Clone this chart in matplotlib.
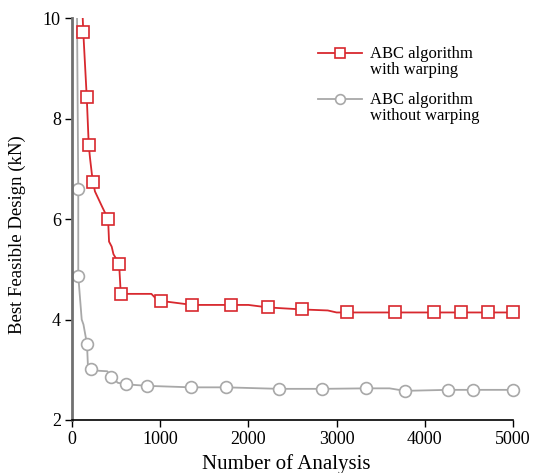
import matplotlib.pyplot as plt
from matplotlib.lines import Line2D

# path of the red curve (line only) and its marker points
red_path_x = [110, 128, 167, 190, 205, 225, 239, 260, 300, 340, 409, 420, 450, 470, 534, 553,
              900, 960, 1008, 1364, 1803, 2000, 2224, 2610, 2900, 3000, 3121, 3659, 4106, 4409, 4712, 5000]
red_path_y = [10.5, 9.72, 8.43, 7.47, 7.2, 6.9, 6.74, 6.55, 6.4, 6.25, 6.0, 5.55, 5.45, 5.3, 5.11, 4.51,
              4.51, 4.4, 4.37, 4.29, 4.29, 4.29, 4.24, 4.20, 4.18, 4.14, 4.14, 4.14, 4.14, 4.14, 4.14, 4.14]
red_mark_x = [128, 167, 190, 239, 409, 534, 553, 1008, 1364, 1803, 2224, 2610, 3121, 3659, 4106, 4409, 4712, 5000]
red_mark_y = [9.72, 8.43, 7.47, 6.74, 6.0, 5.11, 4.51, 4.37, 4.29, 4.29, 4.24, 4.20, 4.14, 4.14, 4.14, 4.14, 4.14, 4.14]

gray_path_x = [55, 71, 71, 110, 130, 170, 180, 212, 300, 400, 443, 520, 613, 848, 1352, 1746, 2344,
               2836, 3339, 3600, 3774, 4262, 4550, 5000]
gray_path_y = [10.5, 6.6, 4.87, 4.0, 3.9, 3.51, 3.1, 3.01, 2.98, 2.97, 2.86, 2.74, 2.71, 2.68, 2.65, 2.65,
               2.62, 2.62, 2.63, 2.63, 2.58, 2.60, 2.60, 2.60]
gray_mark_x = [71, 71, 170, 212, 443, 613, 848, 1352, 1746, 2344, 2836, 3339, 3774, 4262, 4550, 5000]
gray_mark_y = [6.6, 4.87, 3.51, 3.01, 2.86, 2.71, 2.68, 2.65, 2.65, 2.62, 2.62, 2.63, 2.58, 2.60, 2.60, 2.60]

series_labels = ["ABC algorithm\nwith warping", "ABC algorithm\nwithout warping"]

RED = "#d8282e"
GRAY = "#a8a8a8"

plt.rcParams["font.family"] = ["Liberation Serif", "DejaVu Serif"]

W, H = 535, 473
fig = plt.figure(figsize=(W / 100, H / 100), dpi=100)
ax = fig.add_axes([72 / W, 1 - 420 / H, 441 / W, 402 / H])

ax.plot(gray_path_x, gray_path_y, color=GRAY, lw=1.3)
ax.plot(gray_mark_x, gray_mark_y, ls="none", marker="o", ms=8.5, mfc="white",
        mec=GRAY, mew=1.2, clip_on=False)
ax.plot(red_path_x, red_path_y, color=RED, lw=1.3)
ax.plot(red_mark_x, red_mark_y, ls="none", marker="s", ms=9, mfc="white",
        mec=RED, mew=1.2, clip_on=False)

ax.set_xlim(0, 5000)
ax.set_ylim(2, 10)
ax.set_xticks([0, 1000, 2000, 3000, 4000, 5000])
ax.set_yticks([2, 4, 6, 8, 10])
ax.tick_params(labelsize=13, length=5, width=1, direction="out", pad=3)
ax.spines["top"].set_visible(False)
ax.spines["right"].set_visible(False)
ax.spines["left"].set_color("#707070")
ax.spines["left"].set_linewidth(2)
ax.spines["bottom"].set_linewidth(1.2)

ax.set_xlabel("Number of Analysis", fontsize=15)
ax.xaxis.set_label_coords(0.485, -0.085)
ax.set_ylabel("Best Feasible Design (kN)", fontsize=13.5)
ax.yaxis.set_label_coords(-0.104, 0.46)

# legend drawn by hand so the key lines sit on the first text line
legend_styles = [(RED, "s", 53), (GRAY, "o", 99)]
for (color, marker, ypx), label in zip(legend_styles, series_labels):
    yf = 1 - ypx / H
    fig.add_artist(Line2D([318 / W, 362 / W], [yf, yf], transform=fig.transFigure,
                          color=color, lw=1.3))
    fig.add_artist(Line2D([340 / W], [yf], transform=fig.transFigure, color=color,
                          marker=marker, ms=7, mfc="white", mec=color, mew=1.2))
    fig.text(370 / W, 1 - (ypx - 7) / H, label, fontsize=12, va="top", ha="left",
             linespacing=1.0)

fig.savefig("out.png", dpi=100)
